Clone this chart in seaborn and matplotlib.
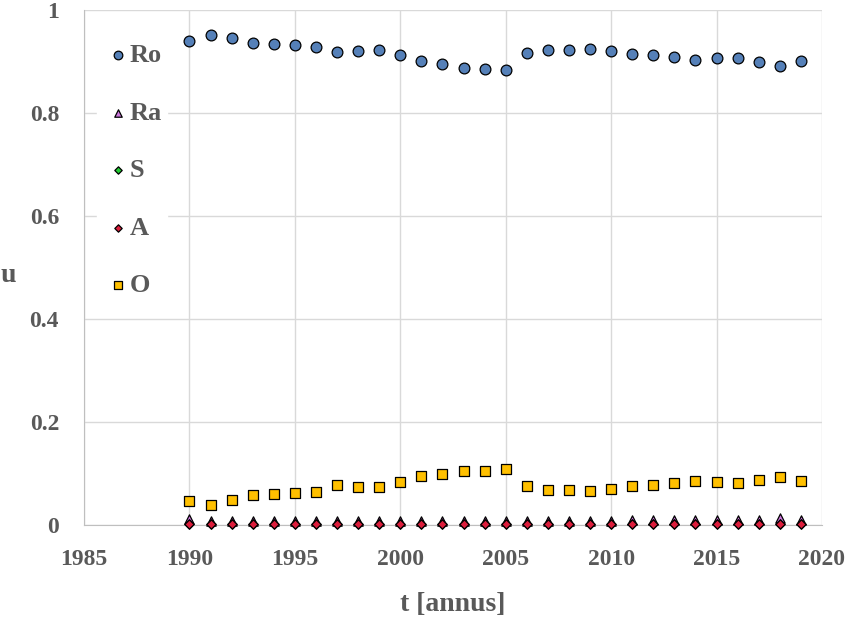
import numpy as np
import pandas as pd
import matplotlib
matplotlib.use('Agg')
import matplotlib.pyplot as plt
import seaborn as sns

# ---------------- datos ----------------
anni = list(range(1990, 2020))
Ro = [0.940, 0.951, 0.946, 0.936, 0.934, 0.932, 0.929, 0.918, 0.921, 0.922,
      0.912, 0.901, 0.896, 0.888, 0.886, 0.883, 0.917, 0.922, 0.923, 0.924,
      0.921, 0.914, 0.913, 0.909, 0.903, 0.906, 0.906, 0.900, 0.891, 0.901]
Ra = [0.012, 0.008, 0.008, 0.008, 0.008, 0.008, 0.008, 0.008, 0.008, 0.008,
      0.008, 0.008, 0.008, 0.008, 0.008, 0.008, 0.008, 0.008, 0.008, 0.008,
      0.008, 0.009, 0.009, 0.009, 0.009, 0.009, 0.009, 0.009, 0.013, 0.009]
S = [0.003] * 30
A = [0.002] * 30
O = [0.047, 0.039, 0.048, 0.058, 0.060, 0.062, 0.065, 0.077, 0.074, 0.074,
     0.084, 0.095, 0.099, 0.105, 0.105, 0.108, 0.075, 0.069, 0.069, 0.067,
     0.070, 0.076, 0.078, 0.081, 0.085, 0.083, 0.082, 0.088, 0.094, 0.086]

series = {'Ro': Ro, 'Ra': Ra, 'S': S, 'A': A, 'O': O}
df = pd.DataFrame([{'t': a, 'u': v, 'serie': k}
                   for k, vals in series.items() for a, v in zip(anni, vals)])

colores = {'Ro': '#5580B8', 'Ra': '#CC77DD', 'S': '#22CC33', 'A': '#DC1E3C', 'O': '#FFC000'}
marcadores = {'Ro': 'o', 'Ra': '^', 'S': 'D', 'A': 'D', 'O': 's'}
tamanos = {'Ro': 60, 'Ra': 45, 'S': 22, 'A': 22, 'O': 55}

# ---------------- gráfico ----------------
sns.set_style('white')
plt.rcParams['font.family'] = ['Liberation Serif', 'DejaVu Serif']
gris = '#595959'

fig = plt.figure(figsize=(8.46, 6.17), dpi=100)
ax = fig.add_axes([0.0993, 0.149, 0.8723, 0.8348])

for nombre in ['Ro', 'Ra', 'S', 'A', 'O']:
    sub = df[df['serie'] == nombre]
    sns.scatterplot(data=sub, x='t', y='u', ax=ax, marker=marcadores[nombre],
                    color=colores[nombre], s=tamanos[nombre], edgecolor='black',
                    linewidth=0.9, label=nombre, zorder=3, clip_on=False)

ax.set_xlim(1985, 2020)
ax.set_ylim(0, 1)
ax.set_xticks(range(1985, 2021, 5))
ax.set_yticks([0, 0.2, 0.4, 0.6, 0.8, 1])
ax.set_yticklabels(['0', '0.2', '0.4', '0.6', '0.8', '1'])
ax.grid(True, color='#D9D9D9', linewidth=1.0)
ax.set_axisbelow(True)
for lado in ['top', 'right']:
    ax.spines[lado].set_visible(False)
for lado in ['left', 'bottom']:
    ax.spines[lado].set_color('#BFBFBF')
ax.tick_params(axis='both', length=0, labelsize=17, labelcolor=gris)
ax.tick_params(axis='x', pad=17)
ax.tick_params(axis='y', pad=18)
for lab in ax.get_xticklabels() + ax.get_yticklabels():
    lab.set_fontweight('bold')

ax.set_xlabel('t [annus]', fontsize=20, fontweight='bold', color=gris)
ax.xaxis.set_label_coords(0.5, -0.13)
ax.set_ylabel('u', fontsize=20, fontweight='bold', color=gris, rotation=0, va='center')
ax.yaxis.set_label_coords(-0.103, 0.485)

leg = ax.legend(loc='upper left', bbox_to_anchor=(0.017, 0.945), frameon=True,
                framealpha=1, edgecolor='white', facecolor='white',
                labelspacing=1.29, handletextpad=-0.15, markerscale=0.8,
                borderpad=0.2, borderaxespad=0, handlelength=1.2,
                prop={'family': 'Liberation Serif', 'weight': 'bold', 'size': 19})
for txt in leg.get_texts():
    txt.set_color(gris)

plt.savefig('out.png', dpi=100)
